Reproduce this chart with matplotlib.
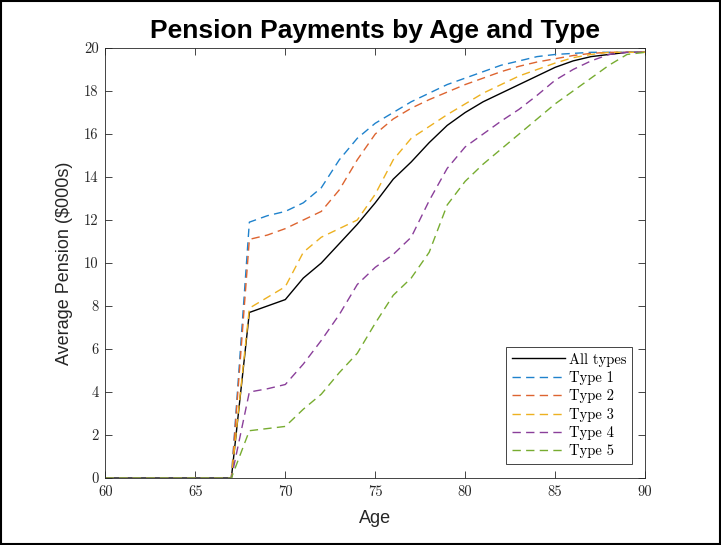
import matplotlib
matplotlib.use("Agg")
import matplotlib.pyplot as plt
from matplotlib.patches import Rectangle

# Average pension (in $000s) by age, one series per pension type
ages = list(range(60, 91))
all_types = [0, 0, 0, 0, 0, 0, 0, 0,
             7.7, 8.0, 8.3, 9.3, 10.0, 10.9, 11.8, 12.8, 13.9, 14.7, 15.6, 16.4,
             17.0, 17.5, 17.9, 18.3, 18.7, 19.1, 19.4, 19.6, 19.7, 19.8, 19.8]
type_1 = [0, 0, 0, 0, 0, 0, 0, 0,
          11.9, 12.2, 12.4, 12.8, 13.5, 14.8, 15.8, 16.5, 17.0, 17.5, 17.9, 18.3,
          18.6, 18.9, 19.2, 19.4, 19.6, 19.7, 19.75, 19.8, 19.8, 19.8, 19.8]
type_2 = [0, 0, 0, 0, 0, 0, 0, 0,
          11.1, 11.3, 11.6, 12.0, 12.4, 13.4, 14.8, 16.0, 16.7, 17.2, 17.6, 17.95,
          18.3, 18.6, 18.9, 19.15, 19.35, 19.5, 19.65, 19.75, 19.8, 19.8, 19.8]
type_3 = [0, 0, 0, 0, 0, 0, 0, 0,
          7.9, 8.4, 8.9, 10.5, 11.2, 11.6, 12.0, 13.2, 14.8, 15.8, 16.35, 16.9,
          17.4, 17.9, 18.3, 18.7, 19.0, 19.3, 19.55, 19.7, 19.8, 19.8, 19.8]
type_4 = [0, 0, 0, 0, 0, 0, 0, 0,
          4.0, 4.15, 4.35, 5.3, 6.4, 7.6, 9.0, 9.8, 10.4, 11.2, 12.9, 14.4,
          15.4, 16.0, 16.6, 17.15, 17.8, 18.5, 19.0, 19.4, 19.7, 19.8, 19.8]
type_5 = [0, 0, 0, 0, 0, 0, 0, 0,
          2.2, 2.3, 2.4, 3.2, 3.9, 4.9, 5.8, 7.2, 8.5, 9.3, 10.5, 12.7,
          13.8, 14.6, 15.3, 16.0, 16.7, 17.4, 18.0, 18.6, 19.2, 19.7, 19.8]

type_series = [type_1, type_2, type_3, type_4, type_5]
type_labels = ["Type 1", "Type 2", "Type 3", "Type 4", "Type 5"]
type_colors = ["#1F82CC", "#DD6430", "#EDB120", "#8A3F9A", "#77AC30"]

x_ticks = [60, 65, 70, 75, 80, 85, 90]
y_ticks = [0, 2, 4, 6, 8, 10, 12, 14, 16, 18, 20]

fig = plt.figure(figsize=(7.21, 5.45), dpi=100)
ax = fig.add_axes([0.1463, 0.1229, 0.7483, 0.789])

ax.plot(ages, all_types, color="black", lw=1.0, label="All types")
for vals, lab, col in zip(type_series, type_labels, type_colors):
    ax.plot(ages, vals, color=col, lw=1.0, dashes=(6, 3.8), label=lab)

ax.set_xlim(60, 90)
ax.set_ylim(0, 20)
ax.set_xticks(x_ticks)
ax.set_yticks(y_ticks)

tick_font = {"family": "cmr10", "size": 10.5}
ax.set_xticklabels([str(t) for t in x_ticks], fontdict=tick_font)
ax.set_yticklabels([str(t) for t in y_ticks], fontdict=tick_font)
ax.tick_params(direction="in", top=True, right=True, length=5, width=0.6,
               colors="#262626", pad=5)
for sp in ax.spines.values():
    sp.set_linewidth(0.6)
    sp.set_color("#262626")

ax.set_xlabel("Age", family="Liberation Sans", fontsize=13, color="#262626",
              labelpad=8)
ax.set_ylabel("Average Pension (\\$000s)", family="Liberation Sans",
              fontsize=13, color="#262626", labelpad=8)
ax.set_title("Pension Payments by Age and Type", family="Liberation Sans",
             fontsize=19, fontweight="bold", pad=7)

leg = ax.legend(loc="lower right", prop={"family": "cmr10", "size": 10.5},
                handlelength=3.6, handletextpad=0.3, labelspacing=0.3,
                borderpad=0.4, fancybox=False, framealpha=1,
                bbox_to_anchor=(0.99, 0.015))
leg.get_frame().set_edgecolor("#262626")
leg.get_frame().set_linewidth(0.6)

# thin outer frame around the whole figure
fig.patches.append(Rectangle((0.002, 0.002), 0.996, 0.996, transform=fig.transFigure,
                             fill=False, edgecolor="black", linewidth=1.5))

fig.savefig("out.png", dpi=100)
